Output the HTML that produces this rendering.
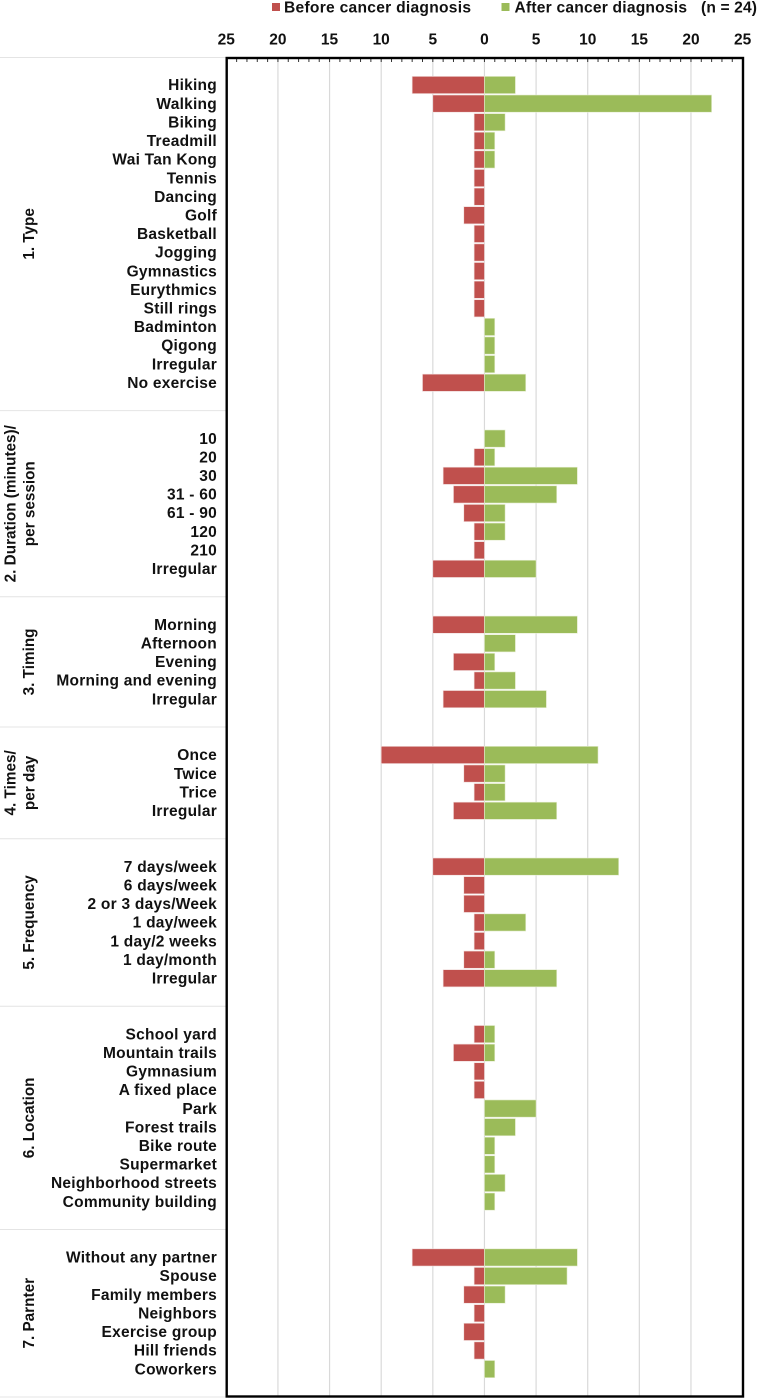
<!DOCTYPE html>
<html lang="en">
<head>
<meta charset="utf-8">
<title>Exercise before and after cancer diagnosis</title>
<style>
html,body{margin:0;padding:0;background:#fff;}
body{width:758px;height:1399px;overflow:hidden;}
svg{display:block;}
text{font-family:"Liberation Sans",Arial,sans-serif;font-weight:bold;fill:#111;}
</style>
</head>
<body>
<svg id="chart" xmlns="http://www.w3.org/2000/svg" width="758" height="1399" viewBox="0 0 758 1399">
  <g>
    <rect x="272" y="3" width="8" height="8" fill="#c0504d"/>
    <text x="284" y="12.5" font-size="15.6" textLength="187" lengthAdjust="spacing">Before cancer diagnosis</text>
    <rect x="501.5" y="3" width="8" height="8" fill="#9bbb59"/>
    <text x="514.5" y="12.5" font-size="15.6" textLength="172.5" lengthAdjust="spacing">After cancer diagnosis</text>
    <text x="701" y="12.5" font-size="15.6" textLength="56" lengthAdjust="spacing">(n = 24)</text>
  </g>
  <g id="plot"></g>
</svg>
<script>
const groupTitles = [["1. Type"], ["2. Duration (minutes)/", "per session"], ["3. Timing"], ["4. Times/", "per day"], ["5. Frequency"], ["6. Location"], ["7. Parnter"]];
const groupCategories = [
  ["Hiking","Walking","Biking","Treadmill","Wai Tan Kong","Tennis","Dancing","Golf","Basketball","Jogging","Gymnastics","Eurythmics","Still rings","Badminton","Qigong","Irregular","No exercise"],
  ["10","20","30","31 - 60","61 - 90","120","210","Irregular"],
  ["Morning","Afternoon","Evening","Morning and evening","Irregular"],
  ["Once","Twice","Trice","Irregular"],
  ["7 days/week","6 days/week","2 or 3 days/Week","1 day/week","1 day/2 weeks","1 day/month","Irregular"],
  ["School yard","Mountain trails","Gymnasium","A fixed place","Park","Forest trails","Bike route","Supermarket","Neighborhood streets","Community building"],
  ["Without any partner","Spouse","Family members","Neighbors","Exercise group","Hill friends","Coworkers"]
];
const beforeValues = [
  [7,5,1,1,1,1,1,2,1,1,1,1,1,0,0,0,6],
  [0,1,4,3,2,1,1,5],
  [5,0,3,1,4],
  [10,2,1,3],
  [5,2,2,1,1,2,4],
  [1,3,1,1,0,0,0,0,0,0],
  [7,1,2,1,2,1,0]
];
const afterValues = [
  [3,22,2,1,1,0,0,0,0,0,0,0,0,1,1,1,4],
  [2,1,9,7,2,2,0,5],
  [9,3,1,3,6],
  [11,2,2,7],
  [13,0,0,4,0,1,7],
  [1,1,0,0,5,3,1,1,2,1],
  [9,8,2,0,0,0,1]
];
const axisTicks = [25,20,15,10,5,0,5,10,15,20,25];

const NS = "http://www.w3.org/2000/svg";
const plot = document.getElementById("plot");
const frameLeft = 226.7, frameRight = 743, frameTop = 58, frameBottom = 1396.5;
const zeroX = (frameLeft + frameRight) / 2 - 0.4;
const unit = (frameRight - frameLeft) / 50;
const firstRowY = 85, rowPitch = 18.61, groupGapRows = 3;
const labelFont = 15.5;
const titleFont = 15.3;
const scaleX = v => zeroX + v * unit;
const rowY = i => firstRowY + i * rowPitch;

function make(tag, attrs, parent, text) {
  const el = document.createElementNS(NS, tag);
  for (const k in attrs) el.setAttribute(k, attrs[k]);
  if (text !== undefined) el.textContent = text;
  (parent || plot).appendChild(el);
  return el;
}

// vertical gridlines
axisTicks.forEach((t, i) => {
  const signed = (i - 5) * 5;
  if (i > 0 && i < axisTicks.length - 1) {
    const g = make("line", {x1: scaleX(signed), x2: scaleX(signed), y1: frameTop, y2: frameBottom, stroke: "#d9d9d9", "stroke-width": 1.2});
    
    
  }
  const lab = make("text", {x: scaleX(signed), y: 44.5, "text-anchor": "middle", "font-size": 15.5}, plot, String(t));
  
  
});

// minor ticks along top of frame
for (let v = -24; v <= 24; v++) {
  const tick = make("line", {x1: scaleX(v), x2: scaleX(v), y1: frameTop, y2: frameTop + 4, stroke: "#333", "stroke-width": 1});
  
  
}

// group separators: first line above the frame, then one below each group
const firstSep = make("line", {x1: 0, x2: frameLeft, y1: 57.5, y2: 57.5, stroke: "#e4e4e4", "stroke-width": 1});



let rowIndex = 0;
groupCategories.forEach((cats, g) => {
  const startRow = rowIndex;
  cats.forEach((name, i) => {
    const y = rowY(rowIndex);
    const label = make("text", {x: 217, y: y + 5.2, "text-anchor": "end", "font-size": labelFont, "letter-spacing": 0.25}, plot, name);
    
    
    const b = beforeValues[g][i], a = afterValues[g][i];
    if (b > 0) {
      const r = make("rect", {x: scaleX(-b), y: y - 8.6, width: scaleX(0) - scaleX(-b), height: 17.2, fill: "#c0504d", stroke: "#f0dcdb", "stroke-width": 0.6});
      
      
    }
    if (a > 0) {
      const r = make("rect", {x: scaleX(0), y: y - 8.6, width: scaleX(a) - scaleX(0), height: 17.2, fill: "#9bbb59", stroke: "#e6eed2", "stroke-width": 0.6});
      
      
    }
    rowIndex++;
  });
  const endRow = rowIndex - 1;
  const midY = (rowY(startRow) + rowY(endRow)) / 2;
  const lines = groupTitles[g];
  lines.forEach((line, li) => {
    const x = lines.length === 2 ? (li === 0 ? 11 : 30) : 29.5;
    const t = make("text", {x: x, y: midY, "text-anchor": "middle", "dominant-baseline": "central", "font-size": titleFont, transform: "rotate(-90 " + x + " " + midY + ")"}, plot, line);
    
    
  });
  const sepY = rowY(endRow) + rowPitch * 1.5;
  const sep = make("line", {x1: 0, x2: frameLeft, y1: sepY, y2: sepY, stroke: "#e4e4e4", "stroke-width": 1});
  
  
  rowIndex += groupGapRows - 1;
});

// frame
const frame = make("rect", {x: frameLeft, y: frameTop, width: frameRight - frameLeft, height: frameBottom - frameTop, fill: "none", stroke: "#000", "stroke-width": 2.4});


</script>
</body>
</html>
